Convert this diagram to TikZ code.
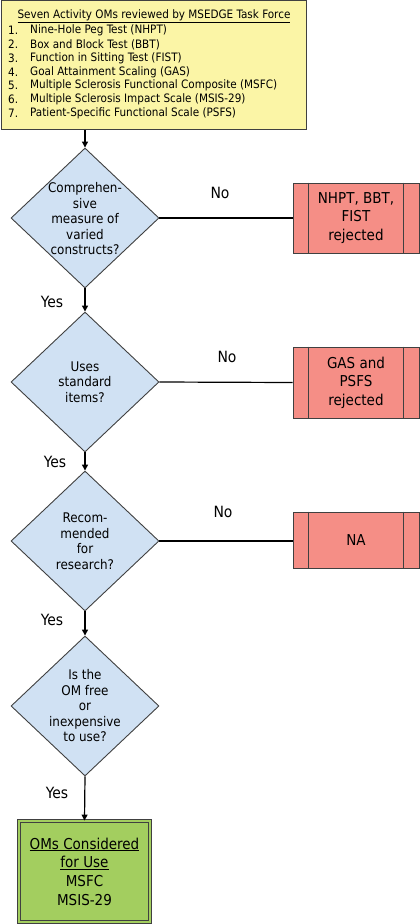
\documentclass[tikz,border=0pt]{standalone}
\usepackage{fontspec}
\setmainfont{DejaVu Sans Condensed}
\usetikzlibrary{shapes.geometric,arrows.meta}
\definecolor{boxyellow}{HTML}{FBF5A6}
\definecolor{boxblue}{HTML}{D0E1F3}
\definecolor{boxred}{HTML}{F58E86}
\definecolor{boxgreen}{HTML}{A3CE5F}
\definecolor{edge}{HTML}{404040}
\tikzset{
  dec/.style={shape=diamond, draw=edge, fill=boxblue, line width=0.9pt, minimum width=148pt, minimum height=140pt, inner sep=0pt},
  dectext/.style={align=center, font=\fontsize{13.3}{15.5}\selectfont, inner sep=0pt},
  rej/.style={draw=edge, fill=boxred, line width=0.9pt, minimum width=126pt, inner sep=0pt, align=center, font=\fontsize{15}{18.5}\selectfont},
  itemtxt/.style={anchor=west, inner sep=0pt, font=\fontsize{11.6}{13}\selectfont},
  lbl/.style={inner sep=0pt, font=\fontsize{15.5}{17}\selectfont},
  flow/.style={line width=1.2pt, -{Triangle[length=6pt,width=6pt]}},
  noline/.style={line width=1.2pt},
}
\begin{document}
\begin{tikzpicture}[x=1pt,y=-1pt]
\useasboundingbox (0,0) rectangle (420,924);
% top box
\node[draw=edge, fill=boxyellow, line width=0.9pt, minimum width=305pt, minimum height=129pt, inner sep=0pt] (top) at (153.5,65) {};
\node[inner sep=0pt, font=\fontsize{11.6}{13}\selectfont] (title) at (154,16.5) {\underline{Seven Activity OMs reviewed by MSEDGE Task Force}};
\foreach \n/\t [count=\i from 0] in {1/Nine-Hole Peg Test (NHPT),2/Box and Block Test (BBT),3/Function in Sitting Test (FIST),4/Goal Attainment Scaling (GAS),5/Multiple Sclerosis Functional Composite (MSFC),6/Multiple Sclerosis Impact Scale (MSIS-29),7/Patient-Specific Functional Scale (PSFS)}{
  \node[itemtxt] (num\n) at (8,30.7+13.7*\i) {\n.};
  \node[itemtxt] (itm\n) at (30,30.7+13.7*\i) {\t};
}
% diamonds
\node[dec] (d1) at (85,218) {};
\node[dectext] (t1) at (85,219) {Comprehen-\\sive\\measure of\\varied\\constructs?};
\node[dec] (d2) at (85,382) {};
\node[dectext] (t2) at (85,382) {Uses\\standard\\items?};
\node[dec] (d3) at (85,541) {};
\node[dectext] (t3) at (85,541) {Recom-\\mended\\for\\research?};
\node[dec] (d4) at (85,706) {};
\node[dectext] (t4) at (85,706) {Is the\\OM free\\or\\inexpensive\\to use?};
% rejected boxes
\node[rej, minimum height=70pt] (r1) at (356,218) {NHPT, BBT,\\FIST\\rejected};
\node[rej, minimum height=71pt] (r2) at (356,382.5) {GAS and\\PSFS\\rejected};
\node[rej, minimum height=56pt] (r3) at (356,540) {NA};
\foreach \r in {r1,r2,r3}{
  \draw[edge, line width=0.9pt] ([xshift=16pt]\r.north west) -- ([xshift=16pt]\r.south west);
  \draw[edge, line width=0.9pt] ([xshift=-16pt]\r.north east) -- ([xshift=-16pt]\r.south east);
}
% final box
\node[draw=edge, double=boxgreen, double distance=2.2pt, line width=0.9pt, fill=boxgreen, minimum width=131pt, minimum height=101pt, inner sep=0pt, align=center, font=\fontsize{15}{18.7}\selectfont] (g) at (84.5,871.5) {\underline{OMs Considered}\\\underline{for Use}\\MSFC\\MSIS-29};
% connectors
\draw[flow] (top.south -| d1.north) -- (d1.north);
\draw[flow] (d1.south) -- (d2.north);
\draw[flow] (d2.south) -- (d3.north);
\draw[flow] (d3.south) -- (d4.north);
\draw[flow] (d4.south) -- (g.north);
\draw[noline] (d1.east) -- (r1.west);
\draw[noline] (d2.east) -- (r2.west);
\draw[noline] (d3.east) -- (r3.west |- d3.east);
% labels
\node[lbl] (y1) at (52,302) {Yes};
\node[lbl] (y2) at (55,462) {Yes};
\node[lbl] (y3) at (52,620) {Yes};
\node[lbl] (y4) at (57,793) {Yes};
\node[lbl] (n1) at (220,193) {No};
\node[lbl] (n2) at (227,357) {No};
\node[lbl] (n3) at (223,512) {No};
\end{tikzpicture}
\end{document}
